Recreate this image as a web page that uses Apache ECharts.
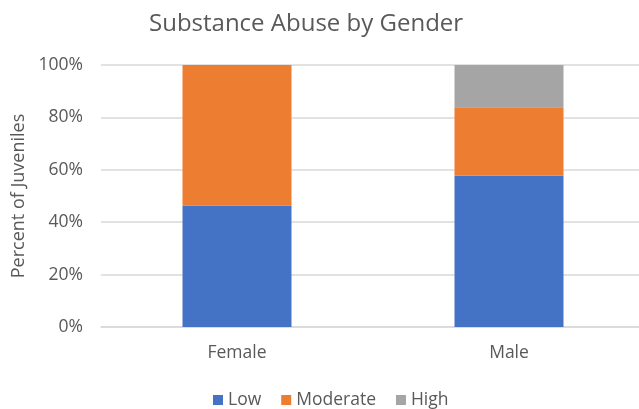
<!DOCTYPE html>
<html>
<head>
<meta charset="utf-8">
<script src="https://cdn.jsdelivr.net/npm/echarts@6/dist/echarts.min.js"></script>
<style>
  html, body { margin: 0; padding: 0; background: #fff; }
  #chart { width: 639px; height: 409px; }
</style>
</head>
<body>
<div id="chart"></div>
<script>
// Share of juveniles at each substance-abuse level, by gender (percent)
const genders = ['Female', 'Male'];
const lowPct = [46.4, 57.7];
const moderatePct = [53.6, 26.2];
const highPct = [0, 16.1];
const yTicks = [0, 20, 40, 60, 80, 100];

const FONT = '"Open Sans", "Noto Sans", sans-serif';
const TEXT = '#595959';

function stackSeries(name, data, color) {
  return {
    name: name,
    type: 'bar',
    stack: 'total',
    barWidth: 109,
    data: data,
    itemStyle: { color: color },
    emphasis: { disabled: true }
  };
}

const chart = echarts.init(document.getElementById('chart'), null, { renderer: 'canvas' });
chart.setOption({
  animation: false,
  backgroundColor: '#ffffff',
  title: {
    text: 'Substance Abuse by Gender',
    left: 144,
    top: 7,
    textStyle: { fontFamily: FONT, fontSize: 24, fontWeight: 'normal', color: TEXT }
  },
  legend: {
    top: 386,
    left: 208,
    itemWidth: 10,
    itemHeight: 10,
    itemGap: 20,
    icon: 'rect',
    textStyle: { fontFamily: FONT, fontSize: 17.5, color: TEXT },
    data: ['Low', 'Moderate', 'High']
  },
  grid: { left: 101, top: 65, right: -6, bottom: 82, containLabel: false, outerBoundsMode: 'none' },
  xAxis: {
    type: 'category',
    data: genders,
    axisLine: { lineStyle: { color: '#D9D9D9', width: 1.5 } },
    axisTick: { show: false },
    axisLabel: { fontFamily: FONT, fontSize: 17.5, color: TEXT, margin: 17 }
  },
  yAxis: {
    type: 'value',
    min: yTicks[0],
    max: yTicks[yTicks.length - 1],
    interval: yTicks[1] - yTicks[0],
    name: 'Percent of Juveniles',
    nameLocation: 'middle',
    nameGap: 72,
    nameRotate: 90,
    nameTextStyle: { fontFamily: FONT, fontSize: 18, color: TEXT },
    axisLine: { show: false },
    axisTick: { show: false },
    axisLabel: { fontFamily: FONT, fontSize: 17.5, color: TEXT, margin: 18, formatter: '{value}%' },
    splitLine: { lineStyle: { color: '#D9D9D9', width: 1.5 } }
  },
  series: [
    stackSeries('Low', lowPct, '#4472C4'),
    stackSeries('Moderate', moderatePct, '#ED7D31'),
    stackSeries('High', highPct, '#A5A5A5')
  ]
});
</script>
</body>
</html>
